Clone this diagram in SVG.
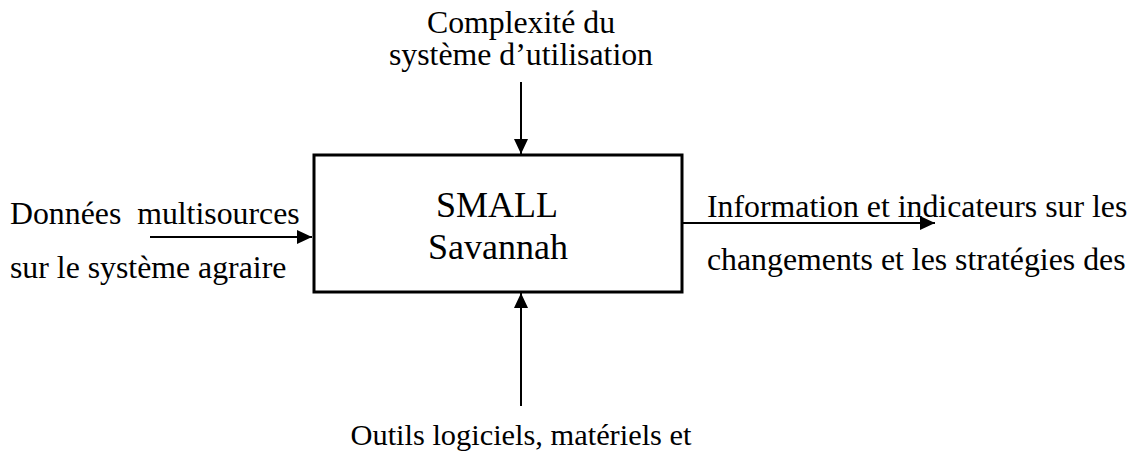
<svg xmlns="http://www.w3.org/2000/svg" width="1135" height="452" viewBox="0 0 1135 452">
<style>
text{font-family:"Liberation Serif","Times New Roman",serif;fill:#000;font-size:31.8px}
.c{text-anchor:middle}
.big{font-size:36px}
.sm{font-size:30.4px}
.ln{stroke:#000;stroke-width:2;fill:none}
</style>
<defs>
<marker id="ah" viewBox="0 0 15 14" refX="15" refY="7" markerWidth="15" markerHeight="14" markerUnits="userSpaceOnUse" orient="auto">
<path d="M0,0 L15,7 L0,14 Z" fill="#000"/>
</marker>
</defs>
<rect width="1135" height="452" fill="#fff"/>
<g id="connectors">
<line class="ln" x1="521" y1="82" x2="521" y2="154" marker-end="url(#ah)"/>
<line class="ln" x1="150" y1="237" x2="312" y2="237" marker-end="url(#ah)"/>
<line class="ln" x1="683" y1="223" x2="935" y2="223" marker-end="url(#ah)"/>
<line class="ln" x1="521" y1="406" x2="521" y2="293" marker-end="url(#ah)"/>
</g>
<g id="small-savannah">
<rect x="314" y="155" width="368" height="137" fill="none" stroke="#000" stroke-width="3"/>
<text class="c big" x="497" y="217">SMALL</text>
<text class="c big" x="498" y="259">Savannah</text>
</g>
<g id="complexite">
<text class="c" x="521" y="33">Complexité du</text>
<text class="c" x="521" y="65">système d’utilisation</text>
</g>
<g id="donnees">
<text x="10" y="224" xml:space="preserve">Données  multisources</text>
<text x="10" y="278">sur le système agraire</text>
</g>
<g id="information">
<text x="707" y="217">Information et indicateurs sur les</text>
<text x="707" y="270">changements et les stratégies des</text>
</g>
<g id="outils">
<text class="c sm" x="521" y="445">Outils logiciels, matériels et</text>
</g>
</svg>
